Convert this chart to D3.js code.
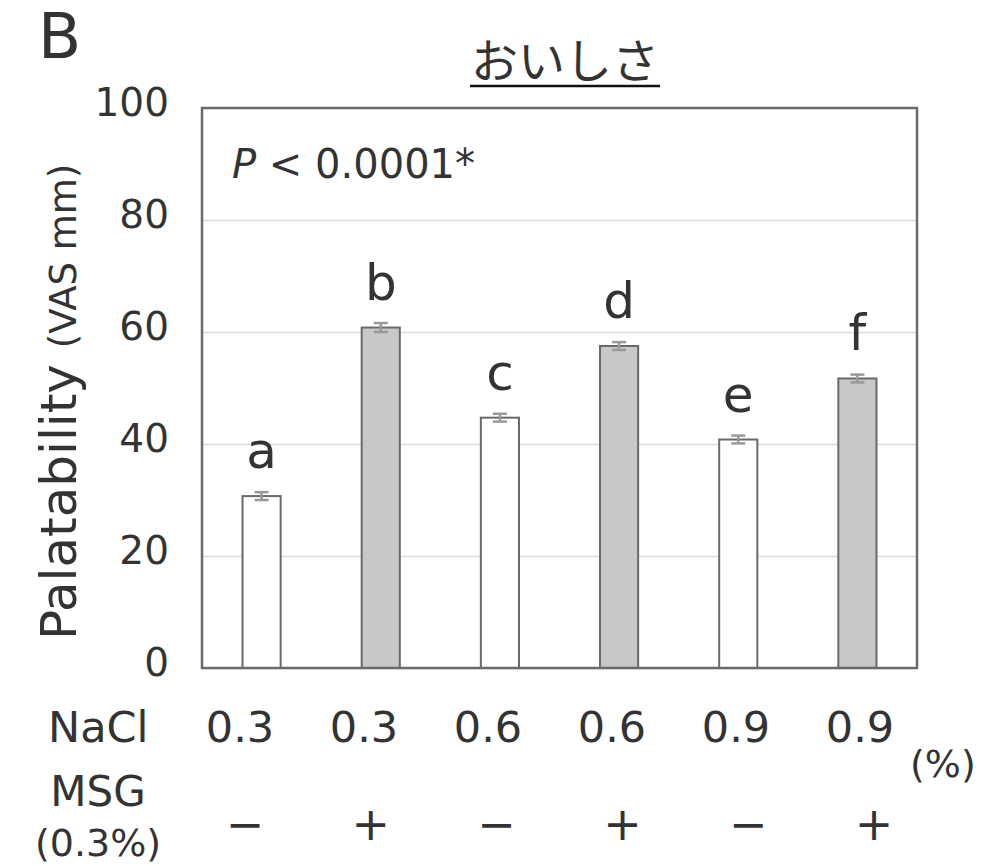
<!DOCTYPE html>
<html>
<head>
<meta charset="utf-8">
<script src="https://cdn.jsdelivr.net/npm/d3@7"></script>
<style>
  body { margin: 0; background: #fff; }
  text { font-family: 'DejaVu Sans', sans-serif; fill: #333; }
</style>
</head>
<body>
<div id="chart"></div>
<script>
// data
let groups  = ['g1', 'g2', 'g3', 'g4', 'g5', 'g6'];
let means   = [30.7, 60.8, 44.7, 57.5, 40.8, 51.7];
let sems    = [0.7, 0.8, 0.7, 0.7, 0.7, 0.7];
let letters = ['a', 'b', 'c', 'd', 'e', 'f'];
let nacl    = ['0.3', '0.3', '0.6', '0.6', '0.9', '0.9'];
let msg     = ['\u2212', '+', '\u2212', '+', '\u2212', '+'];
let msgOn   = [false, true, false, true, false, true];
let yTicks  = [0, 20, 40, 60, 80, 100];

{
  let sizex = 999,
      sizey = 866;

  var margin = {top: 108, right: 82, bottom: 198, left: 202},
      width = sizex - margin.left - margin.right,
      height = sizey - margin.top - margin.bottom;

  var root = d3.select("#chart")
    .append("svg")
      .attr("width", sizex)
      .attr("height", sizey);

  var svg = root.append("g")
      .attr("transform", "translate(" + margin.left + "," + margin.top + ")");

  // y
  var scaley = d3.scaleLinear()
    .domain([0, 100])
    .range([height, 0]);

  // x
  var scalex = d3.scaleBand()
    .domain(groups)
    .range([0, width])
    .paddingInner(0.68)
    .paddingOuter(0.34);

  // gridlines + tick labels
  var yAxis = svg.append("g")
    .call(d3.axisLeft(scaley).tickValues(yTicks).tickSize(-width).tickPadding(33));
  yAxis.select(".domain").remove();
  yAxis.selectAll("line").attr("stroke", "#dcdcdc").attr("stroke-width", 1.5);
  yAxis.selectAll("text")
    .style("font-size", "39px")
    .attr("fill", "#444")
    .attr("dy", "0.18em");

  // bars
  svg.selectAll(".bar")
    .data(groups)
    .enter().append("rect")
      .attr("x", d => scalex(d))
      .attr("y", (d, i) => scaley(means[i]))
      .attr("width", scalex.bandwidth())
      .attr("height", (d, i) => height - scaley(means[i]))
      .attr("fill", (d, i) => msgOn[i] ? "#c8c8c8" : "#ffffff")
      .attr("stroke", "#6a6a6a")
      .attr("stroke-width", 2);

  // error bars
  groups.forEach(function(d, i) {
    let cx = scalex(d) + scalex.bandwidth() / 2;
    let g = svg.append("g").attr("stroke", "#999").attr("stroke-width", 2.5);
    g.append("line")
      .attr("x1", cx).attr("x2", cx)
      .attr("y1", scaley(means[i] - sems[i])).attr("y2", scaley(means[i] + sems[i]));
    g.append("line")
      .attr("x1", cx - 7).attr("x2", cx + 7)
      .attr("y1", scaley(means[i] + sems[i])).attr("y2", scaley(means[i] + sems[i]));
    g.append("line")
      .attr("x1", cx - 7).attr("x2", cx + 7)
      .attr("y1", scaley(means[i] - sems[i])).attr("y2", scaley(means[i] - sems[i]));
  });

  // significance letters
  svg.selectAll(".letter")
    .data(groups)
    .enter().append("text")
      .attr("x", d => scalex(d) + scalex.bandwidth() / 2)
      .attr("y", (d, i) => scaley(means[i]) - 28)
      .attr("text-anchor", "middle")
      .style("font-size", "50px")
      .attr("fill", "#222")
      .text((d, i) => letters[i]);

  // plot frame
  svg.append("rect")
    .attr("x", 0).attr("y", 0)
    .attr("width", width).attr("height", height)
    .attr("fill", "none")
    .attr("stroke", "#6a6a6a")
    .attr("stroke-width", 2.5);

  svg.append("text")
    .attr("x", 30).attr("y", 70)
    .style("font-size", "40px")
    .attr("fill", "#333")
    .html("<tspan font-style='italic'>P</tspan> &lt; 0.0001*");

  // title
  root.append("text")
    .attr("x", 565).attr("y", 78)
    .attr("text-anchor", "middle")
    .style("font-family", "'Noto Sans CJK JP', sans-serif")
    .style("font-size", "47px")
    .attr("fill", "#111")
    .text("おいしさ");
  root.append("line")
    .attr("x1", 470).attr("x2", 660)
    .attr("y1", 86).attr("y2", 86)
    .attr("stroke", "#111").attr("stroke-width", 2.5);

  // panel letter
  root.append("text")
    .attr("x", 38).attr("y", 58)
    .style("font-size", "63px")
    .attr("fill", "#222")
    .text("B");

  // y title
  root.append("text")
    .attr("transform", "translate(76,640)rotate(-90)")
    .style("font-size", "50px")
    .attr("fill", "#333")
    .html("Palatability <tspan style='font-size:37px'>(VAS mm)</tspan>");

  // condition table under the chart
  let tableX = d3.scalePoint().domain(groups).range([240, 860]);
  let signX  = d3.scalePoint().domain(groups).range([245, 874]);

  root.append("text")
    .attr("x", 48).attr("y", 742)
    .style("font-size", "43px")
    .text("NaCl");
  root.selectAll(".nacl")
    .data(groups)
    .enter().append("text")
      .attr("x", d => tableX(d))
      .attr("y", 742)
      .attr("text-anchor", "middle")
      .style("font-size", "43px")
      .text((d, i) => nacl[i]);
  root.append("text")
    .attr("x", 910).attr("y", 777)
    .style("font-size", "38px")
    .text("(%)");

  root.append("text")
    .attr("x", 98).attr("y", 806)
    .attr("text-anchor", "middle")
    .style("font-size", "42px")
    .text("MSG");
  root.append("text")
    .attr("x", 98).attr("y", 856)
    .attr("text-anchor", "middle")
    .style("font-size", "38px")
    .text("(0.3%)");
  root.selectAll(".msg")
    .data(groups)
    .enter().append("text")
      .attr("x", d => signX(d))
      .attr("y", 840)
      .attr("text-anchor", "middle")
      .style("font-size", "46px")
      .text((d, i) => msg[i]);
}
</script>
</body>
</html>
